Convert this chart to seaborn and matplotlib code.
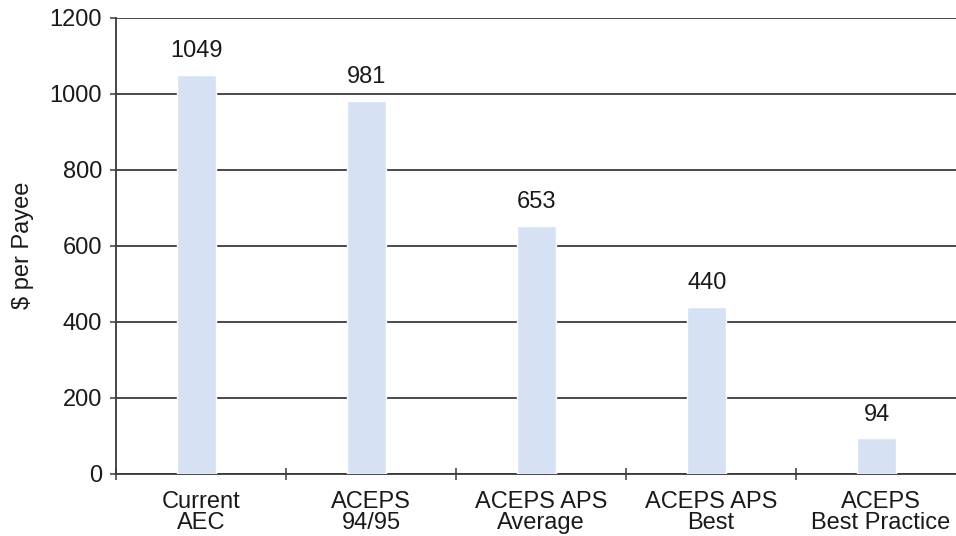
import matplotlib
matplotlib.use("Agg")
import matplotlib.pyplot as plt
import seaborn as sns
import pandas as pd
import numpy as np
from matplotlib.ticker import FixedLocator

categories = ["Current\nAEC", "ACEPS\n94/95", "ACEPS APS\nAverage", "ACEPS APS\nBest", "ACEPS\nBest Practice"]
cost_per_payee = [1049, 981, 653, 440, 94]
y_ticks = [0, 200, 400, 600, 800, 1000, 1200]

sns.set_theme(style="white")
plt.rcParams["font.family"] = ["Liberation Sans", "DejaVu Sans"]

df = pd.DataFrame({"category": categories, "cost": cost_per_payee})

fig = plt.figure(figsize=(9.56, 5.36), dpi=100)
ax = fig.add_axes([116 / 956, 62 / 536, 850 / 956, 456.5 / 536])

sns.barplot(data=df, x="category", y="cost", color="#D6E2F3", saturation=1,
            width=0.23, ax=ax, zorder=3)

# bars sit a touch left of the category centre
bar_shift = -0.025
for b in ax.patches:
    b.set_x(b.get_x() + bar_shift)
    b.set_zorder(3)

ax.set_ylim(0, 1200)
ax.set_xlim(-0.5, len(categories) - 0.5)
ax.set_yticks(y_ticks)
ax.yaxis.grid(True, color="#3a3a3a", linewidth=1.3, zorder=0)
ax.set_axisbelow(True)

for spine in ["top", "right"]:
    ax.spines[spine].set_visible(False)
for spine in ["left", "bottom"]:
    ax.spines[spine].set_color("#3a3a3a")
    ax.spines[spine].set_linewidth(1.3)

ax.tick_params(axis="y", which="major", direction="out", length=4, width=1.1,
               color="#3a3a3a", labelsize=17, labelcolor="#1a1a1a", pad=6, left=True)
ax.tick_params(axis="x", which="major", length=0, labelsize=17, labelcolor="#1a1a1a", pad=12)
ax.xaxis.set_minor_locator(FixedLocator(np.arange(-0.5, len(categories), 1.0)))
ax.tick_params(axis="x", which="minor", direction="inout", length=8, width=1.1,
               color="#3a3a3a", bottom=True)
for lbl in ax.get_xticklabels():
    lbl.set_linespacing(0.95)

ax.set_xlabel("")
ax.set_ylabel("\\$ per Payee", fontsize=17, color="#1a1a1a", labelpad=11)

for i, v in enumerate(cost_per_payee):
    ax.annotate(f"{v}", xy=(i + bar_shift, v), xytext=(0, 9), textcoords="offset points",
                ha="center", va="bottom", fontsize=17, color="#1a1a1a")

fig.savefig("out.png", dpi=100)
